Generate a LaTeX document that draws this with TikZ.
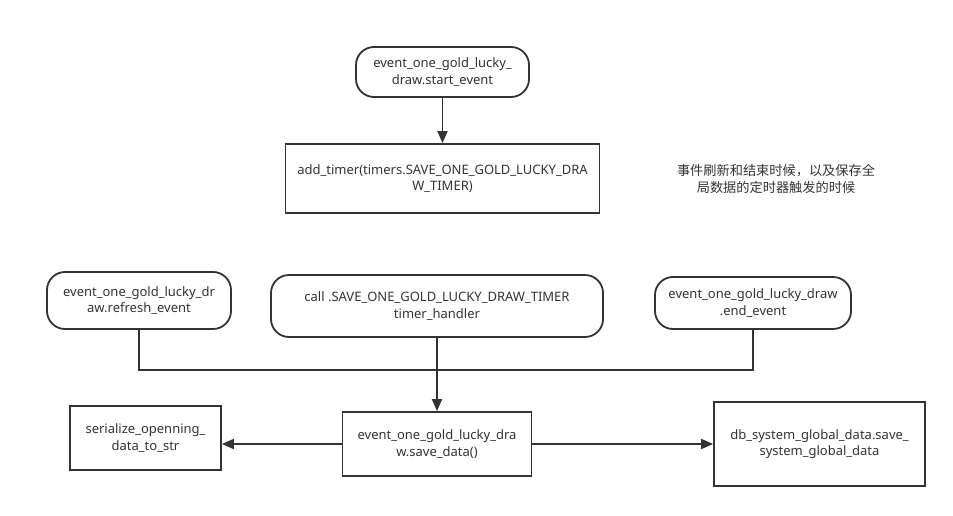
\documentclass[tikz,border=0pt]{standalone}
\usepackage{fontspec}
\setmainfont{Noto Sans}
\newfontfamily\cjk{Noto Sans CJK SC}
\usetikzlibrary{arrows.meta}
\definecolor{ink}{HTML}{333333}
\tikzset{
  base/.style={draw=ink, line width=1.8pt, text=ink, align=center, font=\fontsize{13}{16.5}\selectfont, inner sep=0pt},
  term/.style={base, rounded corners=18pt},
  proc/.style={base},
  link/.style={draw=ink, line width=1.8pt},
  arr/.style={link, -{Triangle[length=12pt,width=10pt]}}
}
\begin{document}
\begin{tikzpicture}[x=1pt,y=-1pt]
\useasboundingbox (0,0) rectangle (953,516);
\node[term, minimum width=173pt, minimum height=50pt] (start) at (442.5,72) {event\_one\_gold\_lucky\_\\draw.start\_event};
\node[proc, minimum width=314pt, minimum height=69pt] (timer) at (442.5,178.5) {add\_timer(timers.SAVE\_ONE\_GOLD\_LUCKY\_DRA\\W\_TIMER)};
\node[text=ink, align=center, font=\cjk\fontsize{13.2}{16.5}\selectfont] (note) at (776,179) {事件刷新和结束时候，以及保存全\\局数据的定时器触发的时候};
\node[term, minimum width=184pt, minimum height=57pt] (refresh) at (139,300.5) {event\_one\_gold\_lucky\_dr\\aw.refresh\_event};
\node[term, minimum width=332pt, minimum height=62pt] (call) at (437,306) {call .SAVE\_ONE\_GOLD\_LUCKY\_DRAW\_TIMER\\timer\_handler};
\node[term, minimum width=196pt, minimum height=52pt] (end) at (753,303) {event\_one\_gold\_lucky\_draw\\.end\_event};
\node[proc, minimum width=189pt, minimum height=64pt] (save) at (437,444) {event\_one\_gold\_lucky\_dra\\w.save\_data()};
\node[proc, minimum width=151pt, minimum height=64pt] (ser) at (145.5,438) {serialize\_openning\_\\data\_to\_str};
\node[proc, minimum width=211pt, minimum height=84pt] (db) at (819.5,444) {db\_system\_global\_data.save\_\\system\_global\_data};
\coordinate (bus) at (0,370);
\draw[arr] (start) -- (timer);
\draw[link] (refresh.south) -- (refresh.south |- bus) -- (end.south |- bus) -- (end.south);
\draw[arr] (call.south) -- (save.north);
\draw[arr] (save.west) -- (save.west -| ser.east);
\draw[arr] (save.east) -- (db.west);
\end{tikzpicture}
\end{document}
